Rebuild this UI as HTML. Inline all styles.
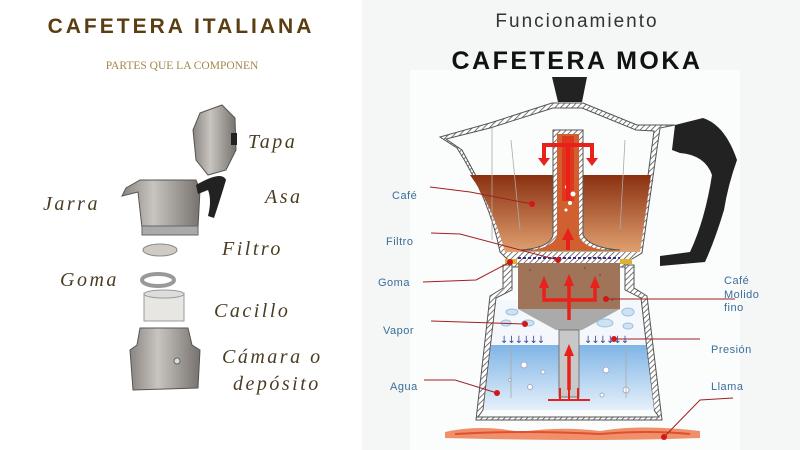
<!DOCTYPE html>
<html><head><meta charset="utf-8"><style>
html,body{margin:0;padding:0;width:800px;height:450px;overflow:hidden;background:#fff}
svg{display:block}
</style></head><body>
<svg width="800" height="450" viewBox="0 0 800 450" xmlns="http://www.w3.org/2000/svg">
<defs>
<pattern id="hatch" width="4" height="4" patternUnits="userSpaceOnUse" patternTransform="rotate(45)">
<rect width="4" height="4" fill="#fff"/><line x1="0" y1="0" x2="0" y2="4" stroke="#555" stroke-width="1.6"/></pattern>
<linearGradient id="cof" x1="0" y1="0" x2="0" y2="1"><stop offset="0" stop-color="#8a3010"/><stop offset="1" stop-color="#e0a070"/></linearGradient>
<linearGradient id="wat" x1="0" y1="0" x2="0" y2="1"><stop offset="0" stop-color="#7fb5e6"/><stop offset="1" stop-color="#e6f0fa"/></linearGradient>
<linearGradient id="alu" x1="0" y1="0" x2="1" y2="0"><stop offset="0" stop-color="#8a8580"/><stop offset=".4" stop-color="#c8c4bf"/><stop offset="1" stop-color="#77726d"/></linearGradient>
</defs>
<rect x="0" y="0" width="362" height="450" fill="#fff"/>
<rect x="362" y="0" width="438" height="450" fill="#f5f6f6"/>
<rect x="410" y="70" width="330" height="380" fill="#fbfcfc"/>

<!-- LEFT -->
<text x="181" y="33" text-anchor="middle" font-family="Liberation Sans,sans-serif" font-weight="bold" font-size="21" letter-spacing="3" fill="#5b3d12">CAFETERA ITALIANA</text>
<text x="182" y="69" text-anchor="middle" font-family="Liberation Serif,serif" font-size="11.5" fill="#a3874a">PARTES QUE LA COMPONEN</text>
<g font-family="Liberation Serif,serif" font-style="italic" font-size="20" letter-spacing="2.5" fill="#4b3d24">
<text x="248" y="148">Tapa</text><text x="265" y="203">Asa</text><text x="43" y="210">Jarra</text>
<text x="222" y="255">Filtro</text><text x="60" y="286">Goma</text><text x="214" y="317">Cacillo</text>
<text x="222" y="363">Cámara o</text><text x="233" y="390">depósito</text></g>
<!-- lid -->
<polygon points="200,113 222,105 235,118 236,150 226,170 208,175 196,160 193,130" fill="url(#alu)" stroke="#555" stroke-width="1"/>
<rect x="231" y="133" width="6" height="12" fill="#222"/>
<!-- upper body -->
<polygon points="140,180 196,180 200,190 198,228 142,228 138,192 122,196 126,188" fill="url(#alu)" stroke="#555"/>
<rect x="142" y="226" width="56" height="9" fill="#aaa" stroke="#666"/>
<path d="M196,185 Q222,170 226,180 Q220,200 214,218 L208,216 Q212,200 208,190 L198,194Z" fill="#222"/>
<!-- filter & gasket -->
<ellipse cx="160" cy="250" rx="17" ry="6" fill="#cfcac3" stroke="#888"/>
<ellipse cx="158" cy="280" rx="16" ry="6" fill="none" stroke="#999" stroke-width="4"/>
<!-- cacillo -->
<rect x="144" y="293" width="40" height="28" fill="#e8e6e2" stroke="#999"/>
<ellipse cx="164" cy="294" rx="20" ry="4" fill="#ddd" stroke="#999"/>
<!-- lower -->
<polygon points="140,328 188,328 192,345 200,350 198,388 133,390 130,350 137,345" fill="url(#alu)" stroke="#555"/>
<circle cx="177" cy="361" r="3" fill="#ddd" stroke="#666"/>

<!-- RIGHT -->
<text x="577" y="27" text-anchor="middle" font-family="Liberation Sans,sans-serif" font-size="19" letter-spacing="2" fill="#333">Funcionamiento</text>
<text x="577" y="69" text-anchor="middle" font-family="Liberation Sans,sans-serif" font-weight="bold" font-size="25" letter-spacing="2.5" fill="#111">CAFETERA MOKA</text>
<!-- knob -->
<polygon points="552,77 587,77 582,102 558,102" fill="#222"/>
<!-- handle -->
<path d="M675,125 L703,118 Q725,125 737,160 Q728,185 724,210 Q715,240 705,262 L660,266 L660,256 L690,252 Q705,220 712,175 Q705,155 680,153 L672,150Z" fill="#222"/>
<!-- upper chamber shell -->
<path d="M440,137 L490,123 L552,103 L583,103 L637,125 L675,125 L660,128 L642,253 L627,262 L627,267 L510,267 L510,262 L500,252 Q490,200 457,148 Z" fill="url(#hatch)" stroke="#555" stroke-width="1"/>
<path d="M446,139 L490,128 L553,108 L582,108 L636,130 L654,131 L638,250 L510,250 Q490,200 462,150 Z" fill="#fbfcfc" stroke="#555" stroke-width="1"/>
<path d="M470,175 L651,175 L640,252 L505,252 Q492,205 470,175Z" fill="url(#cof)"/>
<!-- tube -->
<path d="M553,130 L583,130 L583,235 Q590,248 620,250 L520,250 Q550,248 553,235Z" fill="url(#hatch)" stroke="#555" stroke-width="1"/>
<path d="M557,134 L579,134 L579,236 Q584,248 606,250 L530,250 Q552,248 557,236Z" fill="#d06030"/>
<rect x="562" y="136" width="12" height="65" fill="#e0381c"/>
<g stroke="#aaa" stroke-width=".8"><line x1="492" y1="128" x2="492" y2="240"/><line x1="511" y1="140" x2="520" y2="230"/><line x1="625" y1="140" x2="620" y2="230"/></g>
<g fill="#fff"><circle cx="567" cy="187" r="2"/><circle cx="573" cy="194" r="2.5"/><circle cx="570" cy="203" r="2"/><circle cx="566" cy="210" r="1.5"/></g>
<!-- arrows top -->
<g fill="none" stroke="#e8221a" stroke-width="4"><path d="M568,200 V145 M544,160 V145 H592 V160"/></g>
<g fill="#e8221a"><polygon points="538,158 550,158 544,166"/><polygon points="586,158 598,158 592,166"/><polygon points="562,240 574,240 568,228"/></g>
<rect x="566" y="238" width="4" height="12" fill="#e8221a"/>
<!-- filter plate -->
<line x1="518" y1="258" x2="620" y2="258" stroke="#3a2a8a" stroke-width="2" stroke-dasharray="3,2"/>
<rect x="505" y="259" width="12" height="5" fill="#e0b030"/><rect x="620" y="259" width="12" height="5" fill="#e0b030"/>
<!-- lower chamber shell -->
<path d="M503,265 L512,265 L512,290 L496,298 L483,410 L478,417 L659,417 L654,410 L641,298 L625,290 L625,265 L634,265 L634,288 L647,296 L662,420 L476,420 L490,296 L503,288Z" fill="url(#hatch)" stroke="#555" stroke-width="1"/>
<path d="M497,300 L640,300 L654,410 L484,410Z" fill="#f4f8fc"/>
<path d="M491,345 L646,345 L654,410 L484,410Z" fill="url(#wat)"/>
<!-- grounds -->
<rect x="518" y="263" width="102" height="46" fill="#a07458"/>
<g fill="#6a4030" opacity=".6"><circle cx="530" cy="270" r="1"/><circle cx="560" cy="300" r="1"/><circle cx="600" cy="275" r="1"/><circle cx="545" cy="290" r="1"/><circle cx="612" cy="300" r="1"/><circle cx="585" cy="268" r="1"/></g>
<polygon points="518,309 620,309 582,330 556,330" fill="#aaa"/>
<rect x="559" y="330" width="20" height="67" fill="#c8c8c8" stroke="#777" stroke-width="1"/>
<g fill="none" stroke="#e8221a" stroke-width="3.5"><path d="M544,285 V300 H595 V285 M569,320 V282"/><path d="M569,390 V352"/></g>
<g fill="#e8221a"><polygon points="539,288 549,288 544,276"/><polygon points="564,286 574,286 569,274"/><polygon points="590,288 600,288 595,276"/><polygon points="564,356 574,356 569,344"/></g>
<path d="M548,400 H590 M560,400 V388 M569,400 V388 M578,400 V388" stroke="#e8221a" stroke-width="2" fill="none"/>
<!-- vapor clouds -->
<g fill="#cfe2f2" stroke="#9bc0e0"><ellipse cx="512" cy="312" rx="6" ry="3"/><ellipse cx="506" cy="323" rx="5" ry="3"/><ellipse cx="528" cy="323" rx="6" ry="3"/><ellipse cx="628" cy="312" rx="6" ry="4"/><ellipse cx="605" cy="323" rx="8" ry="4"/><ellipse cx="628" cy="326" rx="5" ry="3"/></g>
<!-- pressure arrows -->
<g fill="#3a4aa0"><text x="500" y="343" font-size="10" font-family="DejaVu Sans,sans-serif" letter-spacing="-1">↓↓↓↓↓↓</text><text x="584" y="343" font-size="10" font-family="DejaVu Sans,sans-serif" letter-spacing="-1">↓↓↓↓↓↓</text></g>
<g fill="#fff" stroke="#aac"><circle cx="524" cy="365" r="3"/><circle cx="543" cy="372" r="2"/><circle cx="530" cy="387" r="2.5"/><circle cx="606" cy="370" r="3"/><circle cx="626" cy="390" r="3"/><circle cx="602" cy="395" r="2"/><circle cx="510" cy="380" r="1.5"/></g>
<g stroke="#aaa" stroke-width=".8"><line x1="511" y1="345" x2="511" y2="398"/><line x1="626" y1="345" x2="626" y2="398"/></g>
<!-- flame -->
<path d="M445,432 Q480,424 520,432 Q560,426 600,431 Q640,424 700,431 L700,438 Q600,442 445,438Z" fill="#f0906a"/>
<path d="M455,434 Q520,430 600,434 Q650,430 690,434" stroke="#e05030" stroke-width="2" fill="none"/>
<!-- leaders -->
<g stroke="#a02020" stroke-width="1" fill="none">
<path d="M430,187 L470,192 L532,204"/><path d="M431,233 L460,234 L558,260"/><path d="M423,282 L476,280 L510,262"/>
<path d="M431,321 L525,324"/><path d="M424,380 L455,380 L497,393"/><path d="M606,299 L735,299"/>
<path d="M614,339 L700,339"/><path d="M733,398 L700,400 L664,437"/></g>
<g fill="#d01818"><circle cx="532" cy="204" r="3"/><circle cx="558" cy="260" r="3"/><circle cx="510" cy="262" r="3"/><circle cx="525" cy="324" r="3"/><circle cx="497" cy="393" r="3"/><circle cx="606" cy="299" r="3"/><circle cx="614" cy="339" r="3"/><circle cx="664" cy="437" r="3"/></g>
<g font-family="Liberation Sans,sans-serif" font-size="11" fill="#3a6e9a" letter-spacing=".5">
<text x="392" y="199">Café</text><text x="386" y="245">Filtro</text><text x="378" y="286">Goma</text><text x="383" y="334">Vapor</text><text x="390" y="390">Agua</text>
<text x="724" y="284">Café</text><text x="724" y="298">Molido</text><text x="724" y="311">fino</text>
<text x="711" y="353">Presión</text><text x="711" y="390">Llama</text></g>
</svg>
</body></html>
